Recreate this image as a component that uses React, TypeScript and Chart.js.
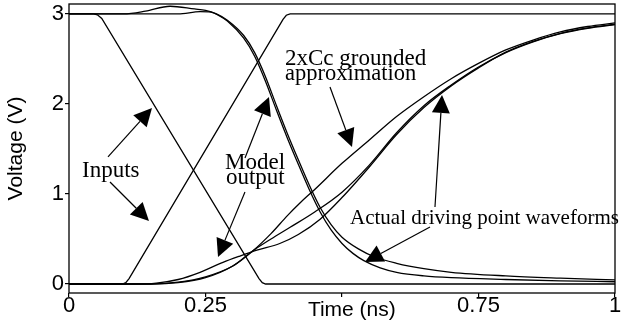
import React, { useEffect, useRef } from 'react';
import { Chart, registerables } from 'chart.js';

Chart.register(...registerables);

// ---- Axis ticks ----
const xTicks = [0, 0.25, 0.5, 0.75, 1];
const xTickLabels = ['0', '0.25', '', '0.75', '1'];
const yTicks = [0, 1, 2, 3];
const yTickLabels = ['0', '1', '2', '3'];

// ---- Inputs (time in ns, voltage in V) ----
const inFallT = [0, 0.045, 0.052, 0.06, 0.348, 0.354, 0.36, 1];
const inFallV = [3, 3, 2.99, 2.95, 0.06, 0.015, 0, 0];
const inRiseT = [0, 0.098, 0.104, 0.11, 0.392, 0.398, 0.405, 1];
const inRiseV = [0, 0, 0.015, 0.06, 2.94, 2.985, 3, 3];

// ---- Falling outputs ----
const outFallAT = [0, 0.1, 0.14, 0.185, 0.23, 0.25, 0.27, 0.29, 0.32, 0.34, 0.36, 0.38, 0.4, 0.42, 0.44, 0.46, 0.48, 0.5, 0.53, 0.56, 0.6, 0.65, 0.7, 0.8, 0.9, 1];
const outFallAV = [3, 3, 3.03, 3.085, 3.055, 3.04, 3.0, 2.93, 2.76, 2.57, 2.3, 1.98, 1.67, 1.38, 1.1, 0.85, 0.66, 0.52, 0.39, 0.3, 0.23, 0.17, 0.13, 0.09, 0.065, 0.045];
const outFallBT = [0, 0.2, 0.24, 0.26, 0.275, 0.29, 0.32, 0.34, 0.36, 0.38, 0.4, 0.42, 0.44, 0.46, 0.48, 0.5, 0.52, 0.54, 0.57, 0.6, 0.65, 0.7, 0.8, 0.9, 1];
const outFallBV = [3, 3, 3.025, 3.02, 2.98, 2.92, 2.73, 2.53, 2.25, 1.93, 1.62, 1.33, 1.05, 0.8, 0.6, 0.45, 0.34, 0.26, 0.18, 0.13, 0.09, 0.07, 0.05, 0.035, 0.025];

// ---- Rising outputs ----
const out2xT = [0, 0.15, 0.2, 0.25, 0.3, 0.337, 0.37, 0.4, 0.423, 0.45, 0.5, 0.55, 0.6, 0.65, 0.7, 0.75, 0.8, 0.85, 0.9, 0.95, 1];
const out2xV = [0, 0, 0.02, 0.08, 0.2, 0.37, 0.56, 0.76, 0.9, 1.05, 1.34, 1.6, 1.86, 2.08, 2.28, 2.45, 2.6, 2.71, 2.8, 2.86, 2.9];
const outActT = [0, 0.15, 0.2, 0.25, 0.3, 0.337, 0.37, 0.405, 0.45, 0.5, 0.55, 0.6, 0.65, 0.7, 0.75, 0.8, 0.85, 0.9, 0.95, 1];
const outActV = [0, 0, 0.015, 0.07, 0.2, 0.37, 0.5, 0.63, 0.8, 1.02, 1.32, 1.68, 1.98, 2.21, 2.41, 2.57, 2.69, 2.78, 2.84, 2.88];
const outModelT = [0, 0.12, 0.16, 0.2, 0.24, 0.282, 0.313, 0.344, 0.386, 0.42, 0.46, 0.5, 0.55, 0.6, 0.65, 0.7, 0.75, 0.8, 0.85, 0.9, 0.95, 1];
const outModelV = [0, 0, 0.01, 0.05, 0.13, 0.24, 0.31, 0.375, 0.45, 0.55, 0.72, 0.96, 1.3, 1.66, 1.96, 2.2, 2.4, 2.575, 2.695, 2.785, 2.845, 2.885];

// ---- Annotations (data coordinates) ----
const noteTexts = ['Inputs', 'Model', 'output', '2xCc grounded', 'approximation', 'Actual driving point waveforms'];
const noteT = [0.0238, 0.2857, 0.2875, 0.3956, 0.3956, 0.5147];
const noteV = [1.189, 1.278, 1.111, 2.433, 2.267, 0.667];

const arrowFromT = [0.0714, 0.0751, 0.3223, 0.3223, 0.478, 0.6703, 0.6612];
const arrowFromV = [1.411, 1.133, 1.4, 1.022, 2.189, 0.856, 0.633];
const arrowToT = [0.152, 0.1465, 0.3663, 0.2729, 0.5183, 0.6832, 0.5421];
const arrowToV = [1.956, 0.7, 2.078, 0.3, 1.522, 2.1, 0.244];

const xTitle = 'Time (ns)';
const xTitleT = 0.518;
const yTitle = 'Voltage (V)';

const SERIF = '"Liberation Serif", "Times New Roman", serif';
const SANS = '"Liberation Sans", Arial, sans-serif';
const noteFontSizes = [23, 23, 23, 23, 22.5, 21];

function pts(t: number[], v: number[]) {
  return t.map((x, i) => ({ x, y: v[i] }));
}

const annotPlugin = {
  id: 'annot',
  afterDatasetsDraw(chart: any) {
    const { ctx, chartArea } = chart;
    const xs = chart.scales.x;
    const ys = chart.scales.y;
    ctx.save();
    ctx.strokeStyle = '#000';
    ctx.fillStyle = '#000';
    ctx.lineWidth = 1.3;
    ctx.strokeRect(chartArea.left, chartArea.top, chartArea.right - chartArea.left, chartArea.bottom - chartArea.top);

    ctx.lineWidth = 1.2;
    for (let i = 0; i < arrowFromT.length; i++) {
      const x0 = xs.getPixelForValue(arrowFromT[i]);
      const y0 = ys.getPixelForValue(arrowFromV[i]);
      const x1 = xs.getPixelForValue(arrowToT[i]);
      const y1 = ys.getPixelForValue(arrowToV[i]);
      const ang = Math.atan2(y1 - y0, x1 - x0);
      const L = 18, W = 9;
      const bx = x1 - L * Math.cos(ang);
      const by = y1 - L * Math.sin(ang);
      ctx.beginPath();
      ctx.moveTo(x0, y0);
      ctx.lineTo(bx, by);
      ctx.stroke();
      ctx.beginPath();
      ctx.moveTo(x1, y1);
      ctx.lineTo(bx + W * Math.sin(ang), by - W * Math.cos(ang));
      ctx.lineTo(bx - W * Math.sin(ang), by + W * Math.cos(ang));
      ctx.closePath();
      ctx.fill();
    }

    ctx.textAlign = 'left';
    ctx.textBaseline = 'alphabetic';
    for (let i = 0; i < noteTexts.length; i++) {
      ctx.font = `${noteFontSizes[i]}px ${SERIF}`;
      ctx.fillText(noteTexts[i], xs.getPixelForValue(noteT[i]), ys.getPixelForValue(noteV[i]));
    }

    ctx.font = `21px ${SANS}`;
    ctx.textAlign = 'center';
    ctx.fillText(xTitle, xs.getPixelForValue(xTitleT), chartArea.bottom + 23);
    ctx.restore();
  },
};

export default function App() {
  const ref = useRef<HTMLCanvasElement>(null);
  useEffect(() => {
    const canvas = ref.current!;
    const line = (t: number[], v: number[], smooth: boolean) => ({
      data: pts(t, v),
      borderColor: '#000',
      borderWidth: 1.3,
      pointRadius: 0,
      fill: false,
      tension: smooth ? 0.4 : 0,
      cubicInterpolationMode: smooth ? 'monotone' : 'default',
    });
    const chart = new Chart(canvas, {
      type: 'line',
      data: {
        datasets: [
          line(inFallT, inFallV, false),
          line(inRiseT, inRiseV, false),
          line(outFallAT, outFallAV, true),
          line(outFallBT, outFallBV, true),
          line(out2xT, out2xV, true),
          line(outActT, outActV, true),
          line(outModelT, outModelV, true),
        ] as any,
      },
      options: {
        animation: false,
        responsive: false,
        events: [],
        plugins: { legend: { display: false }, tooltip: { enabled: false } },
        layout: { padding: { top: 4, right: 8, left: 0, bottom: 0 } },
        scales: {
          x: {
            type: 'linear',
            min: 0,
            max: 1,
            border: { display: false },
            grid: { drawOnChartArea: false, drawTicks: true, tickLength: 4, color: '#000', lineWidth: 1.2 },
            ticks: {
              color: '#000',
              font: { family: SANS, size: 22, lineHeight: 1 },
              padding: -2,
              maxRotation: 0,
              autoSkip: false,
              callback: (value: any) => xTickLabels[xTicks.indexOf(Number(value))] ?? '',
            },
            afterBuildTicks: (s: any) => {
              s.ticks = xTicks.map((value) => ({ value }));
            },
            afterFit: (s: any) => {
              s.height = 32;
              s.paddingLeft = 0;
              s.paddingRight = 0;
              s.paddingTop = 0;
              s.paddingBottom = 0;
            },
          },
          y: {
            type: 'linear',
            min: -0.1,
            max: 3.11,
            border: { display: false },
            grid: { drawOnChartArea: false, drawTicks: true, tickLength: 4, color: '#000', lineWidth: 1.2 },
            ticks: {
              color: '#000',
              font: { family: SANS, size: 22 },
              padding: 1,
              autoSkip: false,
              callback: (value: any) => yTickLabels[yTicks.indexOf(Number(value))] ?? '',
            },
            title: {
              display: true,
              text: yTitle,
              color: '#000',
              font: { family: SANS, size: 21 },
              padding: { top: 4, bottom: 0 },
            },
            afterBuildTicks: (s: any) => {
              s.ticks = yTicks.map((value) => ({ value }));
            },
            afterFit: (s: any) => {
              s.width = 69;
              s.paddingLeft = 0;
              s.paddingRight = 0;
              s.paddingTop = 0;
              s.paddingBottom = 0;
            },
          },
        },
      } as any,
      plugins: [annotPlugin],
    });
    return () => chart.destroy();
  }, []);
  return (
    <div style={{ position: 'fixed', left: 0, top: 0, width: 623, height: 325, background: '#fff' }}>
      <canvas ref={ref} width={623} height={325} style={{ display: 'block', width: 623, height: 325 }} />
    </div>
  );
}
